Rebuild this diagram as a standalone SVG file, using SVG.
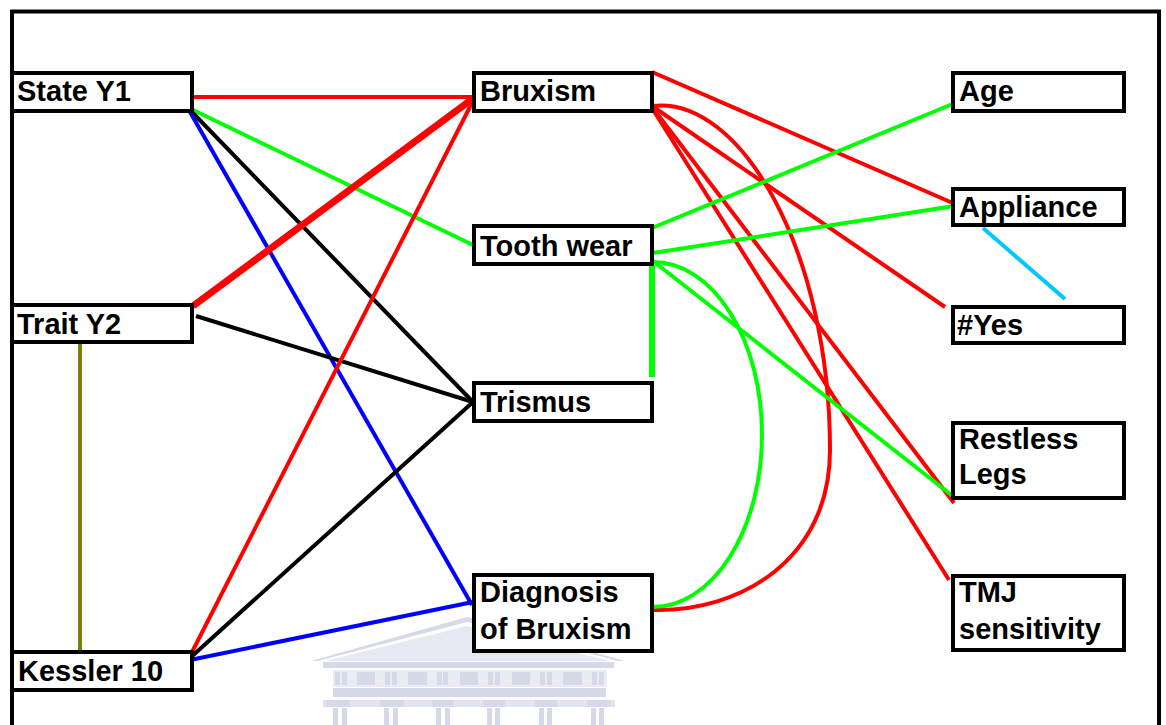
<svg xmlns="http://www.w3.org/2000/svg" width="1166" height="725" viewBox="0 0 1166 725">
<style>
.box{fill:#fff;stroke:#000;stroke-width:4}
.t{font-family:"Liberation Sans",Arial,sans-serif;font-weight:bold;font-size:29px;fill:#000}
.c{fill:none;stroke-width:4}
.r{stroke:#ff0000}.g{stroke:#00ff00}.k{stroke:#000}.b{stroke:#0000ff}
.wm{fill:#d6dae8}
</style>
<rect x="0" y="0" width="1166" height="725" fill="#fff"/>
<g id="frame" fill="none" stroke="#000" stroke-width="4">
<path d="M12,725 V11.5 H1159 V725"/>
</g>
<g id="watermark">
<path class="wm" d="M311,661 L467,617 L625,661 L618,661 L467,622 L318,661 Z"/>
<path class="wm" d="M325,661 L467,626 L611,661 Z" opacity="0.6"/>
<rect class="wm" x="323" y="662" width="291" height="6"/>
<rect class="wm" x="333" y="670" width="274" height="17" opacity="0.5"/>
<g class="wm">
<rect x="335" y="672" width="5" height="13"/><rect x="342" y="672" width="5" height="13"/>
<rect x="357" y="672" width="18" height="13"/>
<rect x="385" y="672" width="5" height="13"/><rect x="392" y="672" width="5" height="13"/>
<rect x="408" y="672" width="19" height="13"/>
<rect x="437" y="672" width="5" height="13"/><rect x="443" y="672" width="5" height="13"/>
<rect x="460" y="672" width="18" height="13"/>
<rect x="488" y="672" width="5" height="13"/><rect x="495" y="672" width="5" height="13"/>
<rect x="512" y="672" width="18" height="13"/>
<rect x="540" y="672" width="5" height="13"/><rect x="547" y="672" width="5" height="13"/>
<rect x="563" y="672" width="19" height="13"/>
<rect x="592" y="672" width="5" height="13"/><rect x="599" y="672" width="5" height="13"/>
</g>
<rect class="wm" x="333" y="688" width="273" height="9"/>
<rect class="wm" x="323" y="700" width="292" height="7" opacity="0.7"/>
<g class="wm">
<rect x="326" y="700" width="24" height="7"/><rect x="380" y="700" width="24" height="7"/>
<rect x="432" y="700" width="22" height="7"/><rect x="483" y="700" width="22" height="7"/>
<rect x="535" y="700" width="22" height="7"/><rect x="587" y="700" width="23" height="7"/>
<rect x="333" y="708" width="5" height="17"/><rect x="342" y="708" width="5" height="17"/>
<rect x="384" y="708" width="5" height="17"/><rect x="393" y="708" width="5" height="17"/>
<rect x="436" y="708" width="5" height="17"/><rect x="445" y="708" width="5" height="17"/>
<rect x="487" y="708" width="5" height="17"/><rect x="495" y="708" width="5" height="17"/>
<rect x="539" y="708" width="5" height="17"/><rect x="547" y="708" width="5" height="17"/>
<rect x="591" y="708" width="5" height="17"/><rect x="599" y="708" width="5" height="17"/>
</g>
</g>
<g id="connectors">
<line class="c r" x1="194" y1="97" x2="475" y2="97"/>
<line class="c g" x1="191" y1="109" x2="473" y2="245"/>
<line class="c k" x1="190" y1="110" x2="473" y2="402"/>
<line class="c b" x1="190" y1="112" x2="472" y2="605"/>
<line class="c r" style="stroke-width:7" x1="193" y1="306" x2="475" y2="97"/>
<line class="c k" x1="196" y1="316" x2="473" y2="402"/>
<line class="c r" x1="190" y1="656" x2="475" y2="97"/>
<line class="c k" x1="190" y1="658" x2="473" y2="402"/>
<line class="c b" x1="190" y1="660" x2="473" y2="602"/>
<line class="c" stroke="#808000" x1="80" y1="340" x2="80" y2="651"/>
<line class="c r" x1="652" y1="72" x2="955" y2="204"/>
<line class="c r" x1="652" y1="106" x2="945" y2="307"/>
<line class="c r" x1="652" y1="107" x2="954" y2="503"/>
<line class="c r" x1="652" y1="108" x2="949" y2="580"/>
<path class="c r" d="M652,106 C740,95 830,250 830,450 C830,560 740,612 653,610"/>
<line class="c g" x1="652" y1="228" x2="955" y2="103"/>
<line class="c g" x1="653" y1="253" x2="954" y2="206"/>
<line class="c g" style="stroke-width:6" x1="652" y1="265" x2="652" y2="377"/>
<line class="c g" x1="653" y1="261" x2="954" y2="497"/>
<path class="c g" d="M653,262 A109,172.5 0 0 1 653,607"/>
<line class="c" stroke="#00c8ff" x1="983" y1="228" x2="1065" y2="299"/>
</g>
<g id="n-state-y1"><rect class="box" x="12" y="73" width="180" height="38"/><text class="t" x="17" y="101">State Y1</text></g>
<g id="n-trait-y2"><rect class="box" x="12" y="305" width="180" height="37"/><text class="t" x="17" y="334">Trait Y2</text></g>
<g id="n-kessler-10"><rect class="box" x="12" y="652" width="180" height="38"/><text class="t" x="18" y="681">Kessler 10</text></g>
<g id="n-bruxism"><rect class="box" x="474" y="73" width="178" height="38"/><text class="t" x="480" y="101">Bruxism</text></g>
<g id="n-tooth-wear"><rect class="box" x="474" y="226" width="178" height="38"/><text class="t" x="480" y="256">Tooth wear</text></g>
<g id="n-trismus"><rect class="box" x="474" y="383" width="178" height="38"/><text class="t" x="480" y="412">Trismus</text></g>
<g id="n-diagnosis"><rect class="box" x="474" y="575" width="178" height="76"/><text class="t" x="480" y="602">Diagnosis</text><text class="t" x="480" y="639">of Bruxism</text></g>
<g id="n-age"><rect class="box" x="953" y="73" width="171" height="38"/><text class="t" x="959" y="101">Age</text></g>
<g id="n-appliance"><rect class="box" x="953" y="189" width="171" height="36"/><text class="t" x="959" y="217">Appliance</text></g>
<g id="n-yes"><rect class="box" x="953" y="307" width="171" height="36"/><text class="t" x="957" y="335">#Yes</text></g>
<g id="n-restless-legs"><rect class="box" x="953" y="423" width="171" height="75"/><text class="t" x="959" y="449">Restless</text><text class="t" x="959" y="484">Legs</text></g>
<g id="n-tmj"><rect class="box" x="953" y="576" width="171" height="74"/><text class="t" x="959" y="602">TMJ</text><text class="t" x="959" y="639">sensitivity</text></g>
</svg>
